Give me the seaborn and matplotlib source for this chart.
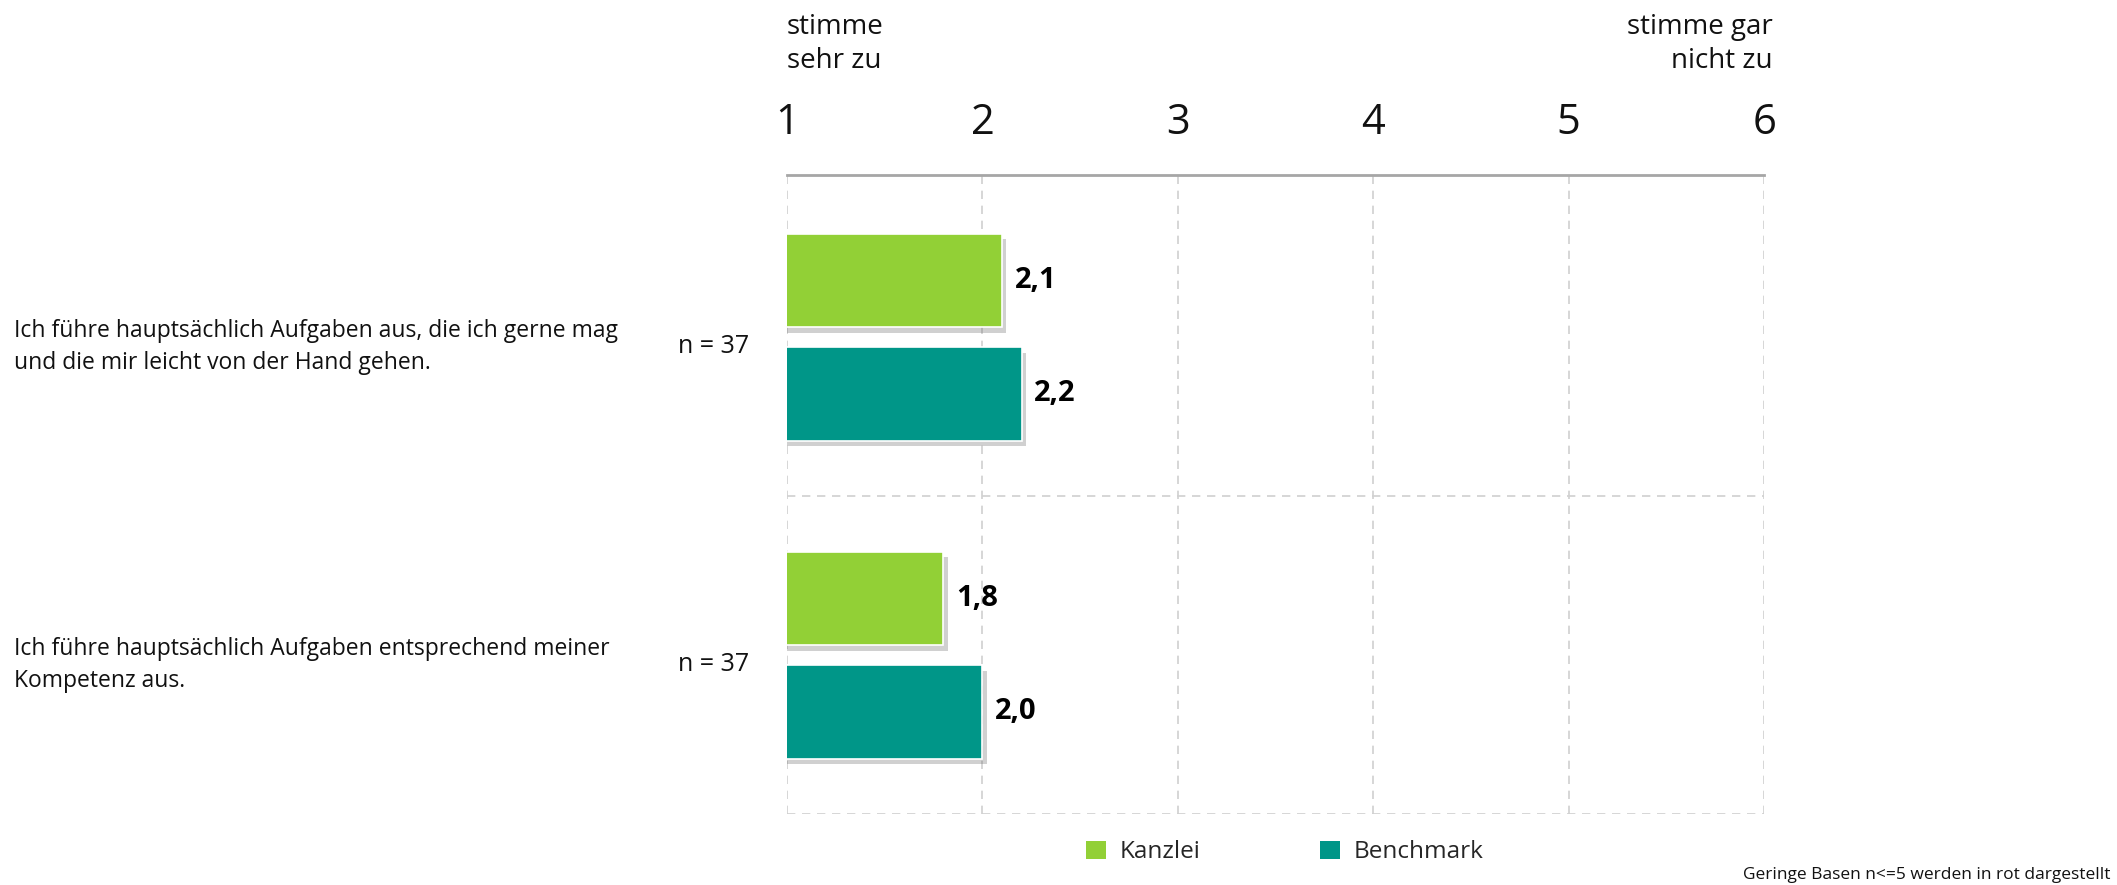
import pandas as pd
import matplotlib
matplotlib.use('Agg')
import matplotlib.pyplot as plt
import matplotlib.patheffects as pe
from matplotlib.transforms import blended_transform_factory
from matplotlib.patches import Patch
import seaborn as sns

# data
questions = ['Ich führe hauptsächlich Aufgaben aus, die ich gerne mag\nund die mir leicht von der Hand gehen.',
             'Ich führe hauptsächlich Aufgaben entsprechend meiner\nKompetenz aus.']
n_labels = ['n = 37', 'n = 37']
series = ['Kanzlei', 'Benchmark']
kanzlei = [2.1, 1.8]
benchmark = [2.2, 2.0]
scale_ticks = [1, 2, 3, 4, 5, 6]
colors = ['#92D036', '#009688']

df = pd.DataFrame({
    'frage': questions * 2,
    'gruppe': [series[0]] * 2 + [series[1]] * 2,
    'wert': kanzlei + benchmark,
})

sns.set_theme(style='white')
plt.rcParams['font.family'] = ['Open Sans', 'DejaVu Sans']

fig = plt.figure(figsize=(21.17, 8.85), dpi=100)
ax = fig.add_axes([0.3718, 0.0802, 0.4615, 0.7221])

sns.barplot(data=df, x='wert', y='frage', hue='gruppe', order=questions,
            hue_order=series, palette=colors, saturation=1, orient='h',
            width=0.714, gap=0.176, edgecolor='white', linewidth=1.2,
            legend=False, ax=ax)

## shadows and value labels
for cont in ax.containers:
    for bar in cont:
        bar.set_path_effects([pe.SimplePatchShadow(offset=(3, -4), alpha=0.3, shadow_rgbFace='#666666'),
                              pe.Normal()])
    vals = cont.datavalues
    ax.bar_label(cont, labels=[f'{v:.1f}'.replace('.', ',') for v in vals],
                 padding=9, fontsize=21, fontweight='bold', color='black')

ax.set_xlim(1, 6)
ax.set_ylim(1.5, -0.51)
ax.set_xticks(scale_ticks)
ax.xaxis.tick_top()
ax.tick_params(axis='x', labelsize=30, pad=22, length=0, labelcolor='#111111')
ax.set_yticks([])
ax.set_xlabel('')
ax.set_ylabel('')

## grid
for x in scale_ticks:
    ax.axvline(x, color='#d0d0d0', linestyle=(0, (5, 4)), linewidth=1.2, zorder=0)
for y in [0.5, 1.5]:
    ax.axhline(y, color='#d0d0d0', linestyle=(0, (5, 4)), linewidth=1.2, zorder=0)
for s in ['left', 'right', 'bottom']:
    ax.spines[s].set_visible(False)
ax.spines['top'].set_color('#a6a6a6')
ax.spines['top'].set_linewidth(2)

## question texts and n
trans = blended_transform_factory(fig.transFigure, ax.transData)
for i, q in enumerate(questions):
    ax.text(0.0065, i + 0.03, q, transform=trans, ha='left', va='center',
            fontsize=16.5, color='#111111', linespacing=1.45)
    ax.text(0.354, i + 0.03, n_labels[i], transform=trans, ha='right', va='center',
            fontsize=18, color='#111111')

## scale ends
fig.text(0.3718, 0.95, 'stimme\nsehr zu', ha='left', va='center', fontsize=20,
         color='#111111', linespacing=1.3)
fig.text(0.8375, 0.95, 'stimme gar\nnicht zu', ha='right', va='center', fontsize=20,
         color='#111111', linespacing=1.3, multialignment='right')

## legend
handles = [Patch(facecolor=c, edgecolor='none') for c in colors]
fig.legend(handles, series, loc='center', bbox_to_anchor=(0.607, 0.037), ncol=2,
           frameon=False, fontsize=17.5, handlelength=0.8, handleheight=0.8,
           handletextpad=0.6, columnspacing=4.9)

fig.text(0.997, 0.011, 'Geringe Basen n<=5 werden in rot dargestellt', ha='right',
         va='center', fontsize=12.5, color='#111111')

plt.savefig('out.png', dpi=100)
